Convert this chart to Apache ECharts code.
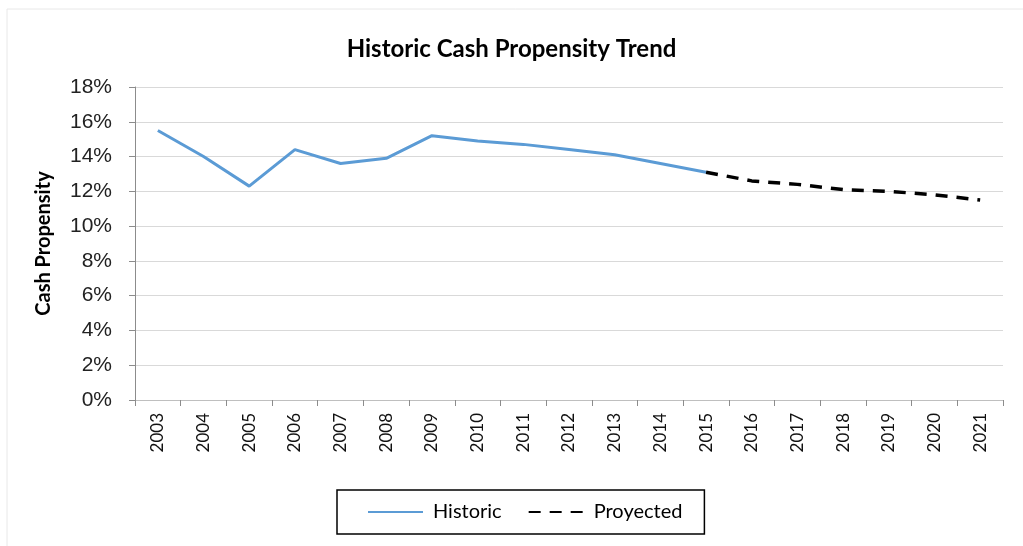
<!DOCTYPE html>
<html>
<head>
<meta charset="utf-8">
<script src="https://cdn.jsdelivr.net/npm/echarts@6/dist/echarts.min.js"></script>
<style>
  html, body { margin: 0; padding: 0; background: #fff; }
  #main { width: 1023px; height: 546px; }
</style>
</head>
<body>
<div id="main"></div>
<script>
var years = ["2003", "2004", "2005", "2006", "2007", "2008", "2009", "2010", "2011", "2012",
  "2013", "2014", "2015", "2016", "2017", "2018", "2019", "2020", "2021"];
// % values
var historic = [15.5, 14.0, 12.3, 14.4, 13.6, 13.9, 15.2, 14.9, 14.7, 14.4, 14.1, 13.6, 13.1,
  null, null, null, null, null, null];
var projected = [null, null, null, null, null, null, null, null, null, null, null, null, 13.1,
  12.6, 12.4, 12.1, 12.0, 11.8, 11.5];

var myChart = echarts.init(document.getElementById("main"));

var option = {
  animation: false,
  title: {
    text: "Historic Cash Propensity Trend",
    left: "center",
    top: 32,
    textStyle: { fontFamily: "Lato", fontWeight: "bold", fontSize: 24, color: "#000" }
  },
  graphic: [
    {
      type: "rect",
      shape: { x: 7, y: 9, width: 1030, height: 560 },
      style: { fill: "none", stroke: "#e8e8e8", lineWidth: 1 }
    }
  ],
  grid: { left: 135, right: 20, top: 87, bottom: 146 },
  legend: {
    bottom: 12,
    left: 337,
    padding: [12, 22, 12, 30],
    borderColor: "#000",
    borderWidth: 1.5,
    itemWidth: 55,
    itemHeight: 14,
    itemGap: 26,
    itemStyle: { opacity: 0 },
    textStyle: { fontFamily: "Lato", fontSize: 20, color: "#000", padding: [0, 0, 0, 5] },
    data: ["Historic", "Proyected"]
  },
  xAxis: {
    type: "category",
    data: years,
    boundaryGap: true,
    axisLine: { lineStyle: { color: "#bfbfbf", width: 1 } },
    axisTick: { show: true, alignWithLabel: false, length: 6, lineStyle: { color: "#8c8c8c" } },
    axisLabel: { rotate: 90, fontFamily: "Lato", fontSize: 17, color: "#111", margin: 13 }
  },
  yAxis: {
    type: "value",
    min: 0,
    max: 18,
    interval: 2,
    name: "Cash Propensity",
    nameLocation: "middle",
    nameGap: 81,
    nameTextStyle: { fontFamily: "Lato", fontWeight: "bold", fontSize: 20, color: "#000" },
    axisLine: { show: true, lineStyle: { color: "#8c8c8c", width: 1 } },
    axisTick: { show: true, length: 6, lineStyle: { color: "#8c8c8c" } },
    splitLine: { lineStyle: { color: "#d9d9d9", width: 1 } },
    axisLabel: {
      formatter: "{value}%",
      fontFamily: "Liberation Sans",
      fontSize: 21,
      color: "#222",
      margin: 23
    }
  },
  series: [
    {
      name: "Historic",
      type: "line",
      data: historic,
      symbol: "none",
      lineStyle: { color: "#5b9bd5", width: 3 },
      itemStyle: { color: "#5b9bd5" }
    },
    {
      name: "Proyected",
      type: "line",
      data: projected,
      symbol: "none",
      lineStyle: { color: "#000", width: 3.5, type: [12, 9] },
      itemStyle: { color: "#000" }
    }
  ]
};

myChart.setOption(option);
</script>
</body>
</html>
